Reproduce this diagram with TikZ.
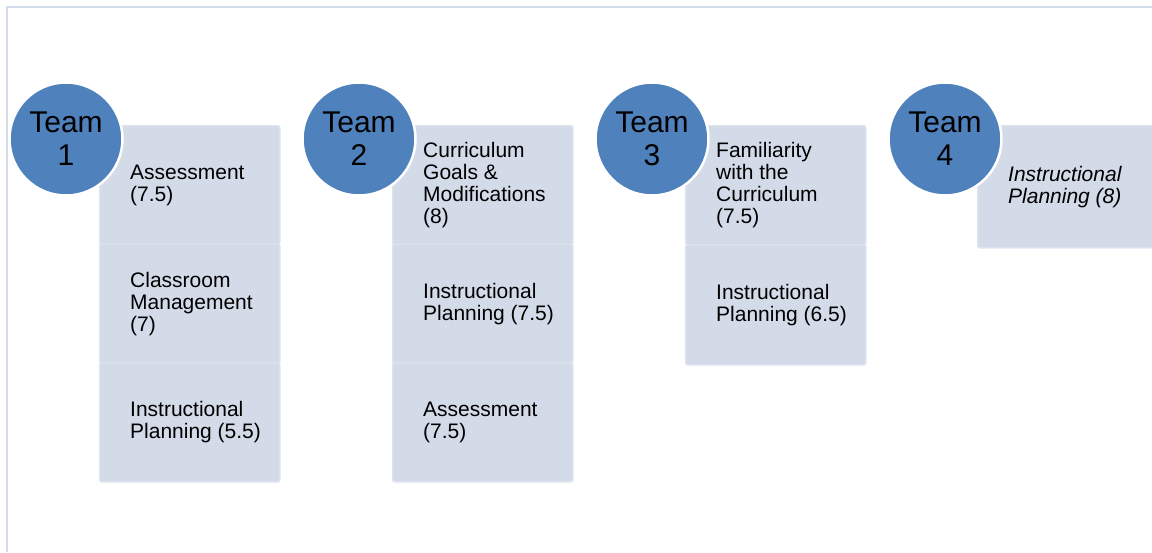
\documentclass[tikz,border=0pt]{standalone}
\usepackage{fontspec}
\setmainfont{Liberation Sans}
\usetikzlibrary{positioning}
\definecolor{teamblue}{HTML}{4F81BD}
\definecolor{boxfill}{HTML}{D3DAE8}
\definecolor{boxline}{HTML}{DCE2EE}
\definecolor{frameline}{HTML}{D3DAE8}
\begin{document}
\begin{tikzpicture}[x=1pt,y=-1pt,
    team/.style={circle, fill=teamblue, draw=white, line width=2.5pt,
        minimum size=113pt, inner sep=0pt, align=center,
        font=\fontsize{30}{33}\selectfont},
    topic/.style={rounded corners=2pt, fill=boxfill, draw=boxline,
        line width=1.5pt, minimum width=180pt, minimum height=119pt,
        anchor=north west, inner sep=0pt},
    topictext/.style={anchor=west, align=left, inner sep=0pt,
        font=\fontsize{21}{22}\selectfont}]
\useasboundingbox (0,0) rectangle (1152,552);
\draw[frameline, line width=2.5pt] (7,552) -- (7,7) -- (1152,7);

% team 1
\node[topic] (t1a) at (99,125) {};
\node[topic] (t1b) at (99,243.5) {};
\node[topic] (t1c) at (99,362) {};
\node[topictext] (t1a-txt) at ([xshift=31pt]t1a.west) {Assessment\\(7.5)};
\node[topictext] (t1b-txt) at ([xshift=31pt]t1b.west) {Classroom\\Management\\(7)};
\node[topictext] (t1c-txt) at ([xshift=31pt]t1c.west) {Instructional\\Planning (5.5)};

% team 2
\node[topic] (t2a) at (392,125) {};
\node[topic] (t2b) at (392,243.5) {};
\node[topic] (t2c) at (392,362) {};
\node[topictext] (t2a-txt) at ([xshift=31pt]t2a.west) {Curriculum\\Goals \&\\Modifications\\(8)};
\node[topictext] (t2b-txt) at ([xshift=31pt]t2b.west) {Instructional\\Planning (7.5)};
\node[topictext] (t2c-txt) at ([xshift=31pt]t2c.west) {Assessment\\(7.5)};

% team 3
\node[topic] (t3a) at (685,125) {};
\node[topic, minimum height=120pt] (t3b) at (685,244) {};
\node[topictext] (t3a-txt) at ([xshift=31pt]t3a.west) {Familiarity\\with the\\Curriculum\\(7.5)};
\node[topictext] (t3b-txt) at ([xshift=31pt]t3b.west) {Instructional\\Planning (6.5)};

% team 4
\node[topic, minimum height=122pt] (t4a) at (977,125) {};
\node[topictext, font=\fontsize{21}{22}\selectfont\itshape] (t4a-txt) at ([xshift=31pt]t4a.west) {Instructional\\Planning (8)};

\foreach \i in {1,...,4}
    \node[team] (team\i) at ({66+293*(\i-1)},139) {Team\\\i};

\end{tikzpicture}
\end{document}
